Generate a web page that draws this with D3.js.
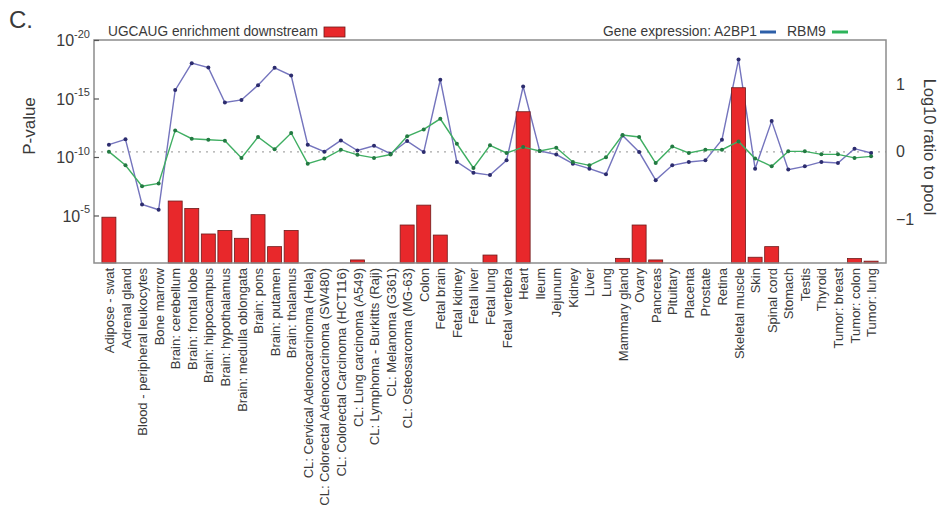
<!DOCTYPE html>
<html>
<head>
<meta charset="utf-8">
<script src="https://cdn.jsdelivr.net/npm/d3@7"></script>
<style>
  body { margin: 0; background: #fff; }
  svg { display: block; font-family: "Liberation Sans", Arial, sans-serif; }
</style>
</head>
<body>
<svg id="chart" width="947" height="514"></svg>
<script>
const categories = [
  "Adipose - swat", "Adrenal gland", "Blood - peripheral leukocytes", "Bone marrow",
  "Brain: cerebellum", "Brain: frontal lobe", "Brain: hippocampus", "Brain: hypothalamus",
  "Brain: medulla oblongata", "Brain: pons", "Brain: putamen", "Brain: thalamus",
  "CL: Cervical Adenocarcinoma (Hela)", "CL: Colorectal Adenocarcinoma (SW480)",
  "CL: Colorectal Carcinoma (HCT116)", "CL: Lung carcinoma (A549)",
  "CL: Lymphoma - Burkitts (Raji)", "CL: Melanoma (G361)", "CL: Osteosarcoma (MG-63)",
  "Colon", "Fetal brain", "Fetal kidney", "Fetal liver", "Fetal lung", "Fetal vertebra",
  "Heart", "Ileum", "Jejunum", "Kidney", "Liver", "Lung", "Mammary gland", "Ovary",
  "Pancreas", "Pituitary", "Placenta", "Prostate", "Retina", "Skeletal muscle", "Skin",
  "Spinal cord", "Stomach", "Testis", "Thyroid", "Tumor: breast", "Tumor: colon", "Tumor: lung"
];

// UGCAUG enrichment downstream: P-value (null = no bar)
const pValues = [
  1.4e-5, null, null, null,
  5.8e-7, 2.5e-6, 3.8e-4, 1.9e-4,
  8.9e-4, 8.5e-6, 4.6e-3, 1.9e-4,
  null, null, null, 0.063,
  null, null, 6.5e-5,
  1.3e-6, 4.7e-4, null, null, 0.024, null,
  1.35e-14, null, null, null, null, null, 0.046, 6.5e-5,
  0.063, null, null, null, null, 1.2e-16, 0.037,
  4.6e-3, null, null, null, null, 0.048, 0.08
];

// Gene expression, log10 ratio to pool
const a2bp1 = [
  0.107, 0.185, -0.78, -0.86,
  0.916, 1.316, 1.25, 0.733,
  0.77, 0.99, 1.247, 1.133,
  0.107, 0.003, 0.17, 0.02,
  0.09, -0.027, 0.16,
  -0.003, 1.07, -0.15, -0.31, -0.345, -0.126,
  0.97, 0.012, -0.04, -0.175, -0.25, -0.333, 0.244, -0.003,
  -0.42, -0.2, -0.15, -0.126, 0.18, 1.37, -0.25,
  0.456, -0.264, -0.215, -0.15, -0.166, 0.047, -0.017
];
const rbm9 = [
  0.003, -0.2, -0.51, -0.47,
  0.318, 0.195, 0.18, 0.166,
  -0.092, 0.22, 0.037, 0.279,
  -0.175, -0.1, 0.032, -0.045,
  -0.09, -0.04, 0.23,
  0.333, 0.49, 0.12, -0.24, 0.096, -0.017,
  0.07, 0.012, 0.062, -0.15, -0.2, -0.082, 0.25, 0.22,
  -0.166, 0.08, -0.017, 0.032, 0.032, 0.155, -0.1,
  -0.215, 0.007, 0.007, -0.037, -0.037, -0.09, -0.067
];

const pTicks = [1e-20, 1e-15, 1e-10, 1e-5];
const ratioTicks = [-1, 0, 1];

const svg = d3.select("#chart");
const L = 94, R = 886, T = 40, B = 263;

const x = d3.scalePoint().domain(categories).range([L, R]).padding(0.9);
const yP = d3.scaleLog().domain([1e-20, 0.115]).range([T, B]);
const yR = d3.scaleLinear().domain([1.66, -1.65]).range([T, B]);

const textCol = "#3a3a3a";

// zero reference line
svg.append("line")
  .attr("x1", L).attr("x2", R)
  .attr("y1", yR(0)).attr("y2", yR(0))
  .attr("stroke", "#a8a8a8").attr("stroke-width", 1.2)
  .attr("stroke-dasharray", "2,5");

function drawLine(values, lineCol, dotCol) {
  const data = values.map((v, i) => ({c: categories[i], v}));
  const g = svg.append("g");
  g.append("path")
    .datum(data)
    .attr("fill", "none")
    .attr("stroke", lineCol)
    .attr("stroke-width", 1.4)
    .attr("d", d3.line().x(d => x(d.c)).y(d => yR(d.v)));
  g.selectAll("circle").data(data).join("circle")
    .attr("cx", d => x(d.c)).attr("cy", d => yR(d.v))
    .attr("r", 2).attr("fill", dotCol);
}

// A2BP1 line (behind bars)
drawLine(a2bp1, "#7474bd", "#2c2c6e");

// bars
const barW = 14;
svg.append("g").selectAll("rect")
  .data(categories.map((c, i) => ({c, p: pValues[i]})).filter(d => d.p !== null))
  .join("rect")
  .attr("x", d => x(d.c) - barW / 2)
  .attr("width", barW)
  .attr("y", d => yP(d.p))
  .attr("height", d => B - yP(d.p))
  .attr("fill", "#e8282b")
  .attr("stroke", "#6e1a1a")
  .attr("stroke-width", 0.8);

// RBM9 line (on top)
drawLine(rbm9, "#3fae62", "#237a42");

// frame
svg.append("rect")
  .attr("x", L).attr("y", T).attr("width", R - L).attr("height", B - T)
  .attr("fill", "none").attr("stroke", "#8c8c8c").attr("stroke-width", 1.5);

// left axis (ticks inside)
const gL = svg.append("g").attr("transform", `translate(${L},0)`)
  .call(d3.axisLeft(yP).tickValues(pTicks).tickSize(-5).tickPadding(4).tickFormat(""));
gL.select(".domain").remove();
gL.selectAll(".tick line").attr("stroke", "#555").attr("stroke-width", 1.2);
gL.selectAll(".tick").each(function(d) {
  const t = d3.select(this).append("text")
    .attr("x", -4).attr("dy", "0.35em")
    .attr("text-anchor", "end").attr("fill", textCol)
    .attr("font-size", 16);
  t.append("tspan").text("10");
  t.append("tspan").attr("font-size", 11).attr("dy", "-0.75em")
    .text(String(Math.round(Math.log10(d))));
});

// right axis
const gR = svg.append("g").attr("transform", `translate(${R},0)`)
  .call(d3.axisRight(yR).tickValues(ratioTicks).tickSize(0).tickPadding(10).tickFormat(d3.format("d")));
gR.select(".domain").remove();
gR.selectAll(".tick text").attr("font-size", 16).attr("fill", textCol)
  .attr("font-family", "Liberation Sans, Arial, sans-serif");

// bottom axis labels
const gB = svg.append("g").attr("transform", `translate(0,${B})`)
  .call(d3.axisBottom(x).tickSize(0).tickPadding(0));
gB.select(".domain").remove();
gB.selectAll(".tick text")
  .attr("transform", "rotate(-90)")
  .attr("x", -5).attr("y", 0).attr("dy", "0.35em")
  .attr("text-anchor", "end")
  .attr("font-size", 13).attr("fill", textCol)
  .attr("font-family", "Liberation Sans, Arial, sans-serif");

// axis titles
svg.append("text")
  .attr("transform", "translate(35,126) rotate(-90)")
  .attr("text-anchor", "middle").attr("font-size", 17).attr("fill", textCol)
  .text("P-value");
svg.append("text")
  .attr("transform", "translate(924,147) rotate(90)")
  .attr("text-anchor", "middle").attr("font-size", 16.5).attr("fill", textCol)
  .text("Log10 ratio to pool");

// panel letter
svg.append("text").attr("x", 9).attr("y", 28)
  .attr("font-size", 24).attr("fill", textCol).text("C.");

// legends
svg.append("text").attr("x", 108).attr("y", 36)
  .attr("font-size", 14).attr("fill", textCol)
  .attr("textLength", 210).attr("lengthAdjust", "spacingAndGlyphs")
  .text("UGCAUG enrichment downstream");
svg.append("rect").attr("x", 324).attr("y", 27).attr("width", 21).attr("height", 10)
  .attr("fill", "#e8282b").attr("stroke", "#6e1a1a").attr("stroke-width", 0.8);

svg.append("text").attr("x", 603).attr("y", 36)
  .attr("font-size", 14).attr("fill", textCol)
  .attr("textLength", 154).attr("lengthAdjust", "spacingAndGlyphs")
  .text("Gene expression: A2BP1");
svg.append("line").attr("x1", 760).attr("x2", 776).attr("y1", 32).attr("y2", 32)
  .attr("stroke", "#2d5fa8").attr("stroke-width", 3);
svg.append("text").attr("x", 787).attr("y", 36)
  .attr("font-size", 14).attr("fill", textCol)
  .text("RBM9");
svg.append("line").attr("x1", 832).attr("x2", 848).attr("y1", 32).attr("y2", 32)
  .attr("stroke", "#2db45a").attr("stroke-width", 3);
</script>
</body>
</html>
